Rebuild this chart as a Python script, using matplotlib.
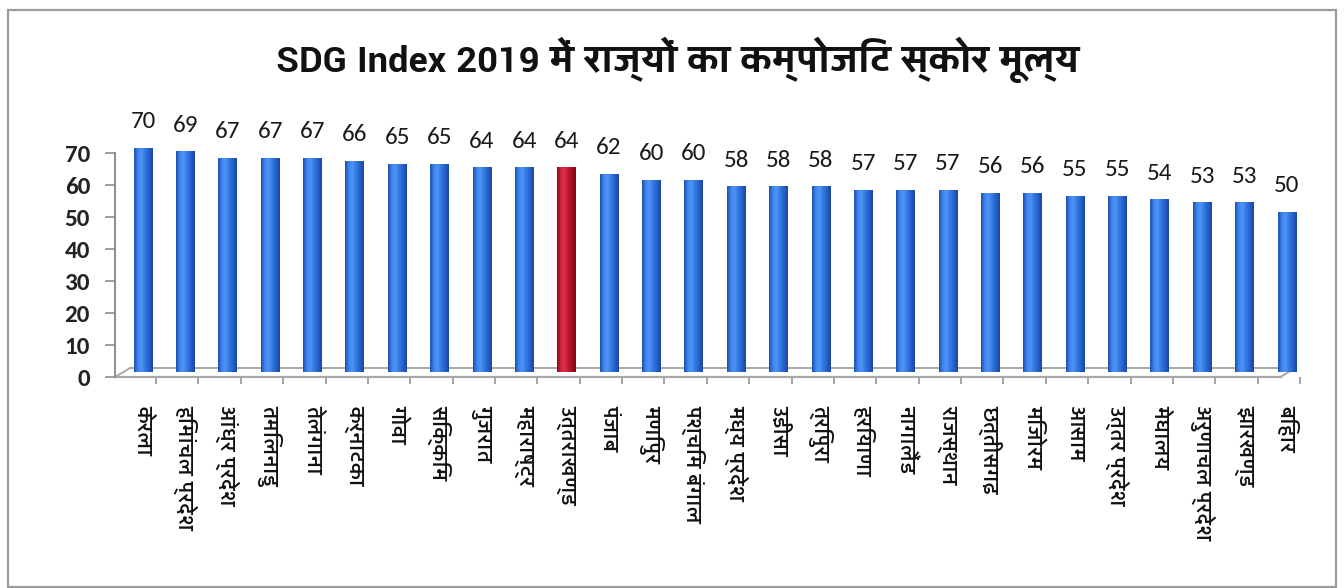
import numpy as np
import matplotlib
matplotlib.use("Agg")
import matplotlib.pyplot as plt
from matplotlib import font_manager
from matplotlib.colors import LinearSegmentedColormap
from matplotlib.patches import Rectangle
from matplotlib.transforms import ScaledTranslation

# ---- data -------------------------------------------------------------
states = [
    "केरला", "हिमांचल प्रदेश", "आंध्र प्रदेश", "तमिलनाडु", "तेलंगाना",
    "कर्नाटका", "गोवा", "सिक्किम", "गुजरात", "महाराष्ट्र", "उत्तराखण्ड",
    "पंजाब", "मणिपुर", "पश्चिम बंगाल", "मध्य प्रदेश", "उड़ीसा", "त्रिपुरा",
    "हरियाणा", "नागालैंड", "राजस्थान", "छत्तीसगढ़", "मिजोरम", "आसाम",
    "उत्तर प्रदेश", "मेघालय", "अरुणाचल प्रदेश", "झारखण्ड", "बिहार",
]
scores = [70, 69, 67, 67, 67, 66, 65, 65, 64, 64, 64, 62, 60, 60, 58, 58,
          58, 57, 57, 57, 56, 56, 55, 55, 54, 53, 53, 50]
highlight_state = "उत्तराखण्ड"
y_ticks = [0, 10, 20, 30, 40, 50, 60, 70]
title = "SDG Index 2019 में राज्यों का कम्पोजिट स्कोर मूल्य"

# ---- fonts --------------------------------------------------------------
installed = {f.name for f in font_manager.fontManager.ttflist}


def first_installed(names, default):
    for n in names:
        if n in installed:
            return n
    return default


deva = first_installed(["Yantramanav", "Hind", "Mukta", "Noto Sans Devanagari",
                        "Poppins", "Palanquin"], "DejaVu Sans")
num_font = first_installed(["Carlito", "Lato", "Open Sans"], "DejaVu Sans")
plt.rcParams["font.family"] = [deva, "DejaVu Sans"]
deva_fam = [deva, "DejaVu Sans"]
num_fam = [num_font, "DejaVu Sans"]

# ---- figure -------------------------------------------------------------
W, H, DPI = 1344, 588, 100
fig = plt.figure(figsize=(W / DPI, H / DPI), dpi=DPI, facecolor="white")

# outer frame
fig.add_artist(Rectangle((8 / W, 0.002), (1336 - 8) / W, (H - 10) / H - 0.002,
                         transform=fig.transFigure, fill=False,
                         edgecolor="#9c9c9c", lw=1.6))

ax_left, ax_right, y0_px, y70_px = 115, 1300, 377, 153
ax = fig.add_axes([ax_left / W, 1 - y0_px / H,
                   (ax_right - ax_left) / W, (y0_px - y70_px) / H])
ax.set_xlim(-0.66, 27.2)
ax.set_ylim(0, 70)
ax.patch.set_alpha(0)

x = np.arange(len(states))

# bars sit slightly behind the front edge of the floor (3D look)
depth = ScaledTranslation(0, 5 / DPI, fig.dpi_scale_trans)
bar_tr = ax.transData + depth

blue_cmap = LinearSegmentedColormap.from_list(
    "blue_cyl", ["#1b4fae", "#3f86ee", "#4f93f5", "#3377e2", "#2660c8", "#1a46a0"])
red_cmap = LinearSegmentedColormap.from_list(
    "red_cyl", ["#86081b", "#d2253d", "#d83048", "#c0162e", "#a50e24", "#7a0616"])
grad = np.linspace(0, 1, 64).reshape(1, -1)

colors = ["#c0162e" if s == highlight_state else "#3377e2" for s in states]
bars = ax.bar(x, scores, width=0.44, color=colors, transform=bar_tr,
              edgecolor="none", zorder=3)
for b, s in zip(bars, states):
    cm = red_cmap if s == highlight_state else blue_cmap
    x0, w, h = b.get_x(), b.get_width(), b.get_height()
    im = ax.imshow(grad, cmap=cm, aspect="auto", extent=(x0, x0 + w, 0, h),
                   transform=bar_tr, zorder=4, interpolation="bilinear")
    im.set_clip_path(b)

# value labels
for xi, v in zip(x, scores):
    ax.annotate(f"{v}", xy=(xi, v), xytext=(0, 31 * 72 / DPI),
                textcoords="offset points", ha="center", va="center",
                fontsize=18, color="#1a1a1a", family=num_fam)

# floor (perspective plane at the base)
floor_col = "#a8a8a8"
back_dy = 9 / (y0_px - y70_px) * 70
ax.plot([-0.66, 26.85], [0, 0], color=floor_col, lw=1.6, zorder=2, clip_on=False)
ax.plot([-0.3, 27.2], [back_dy, back_dy], color=floor_col, lw=1.4, zorder=2, clip_on=False)
ax.plot([-0.66, -0.3], [0, back_dy], color=floor_col, lw=1.4, zorder=2, clip_on=False)
ax.plot([26.85, 27.2], [0, back_dy], color=floor_col, lw=1.4, zorder=2, clip_on=False)

# axes styling
for side in ("top", "right", "bottom"):
    ax.spines[side].set_visible(False)
ax.spines["left"].set_color("#8c8c8c")
ax.spines["left"].set_linewidth(1.4)
ax.set_yticks(y_ticks)
ax.set_yticklabels([str(t) for t in y_ticks], fontsize=18, fontweight="bold",
                   family=num_fam, color="#222222")
ax.tick_params(axis="y", direction="out", length=7, width=1.2, color="#8c8c8c", pad=11)

ax.set_xticks(x)
ax.set_xticklabels(states, rotation=-90, fontsize=16, va="top", ha="center",
                   color="#111111", family=deva_fam, fontweight="medium")
ax.tick_params(axis="x", length=0, pad=20)
ax.set_xticks(x + 0.31, minor=True)
ax.tick_params(axis="x", which="minor", length=5, width=1.1, color="#8c8c8c",
               direction="out")

fig.text(678 / W, 1 - 60 / H, title, ha="center", va="center",
         fontsize=29, fontweight="bold", color="#111111", family=deva_fam)

fig.savefig("out.png", dpi=DPI, facecolor="white")
